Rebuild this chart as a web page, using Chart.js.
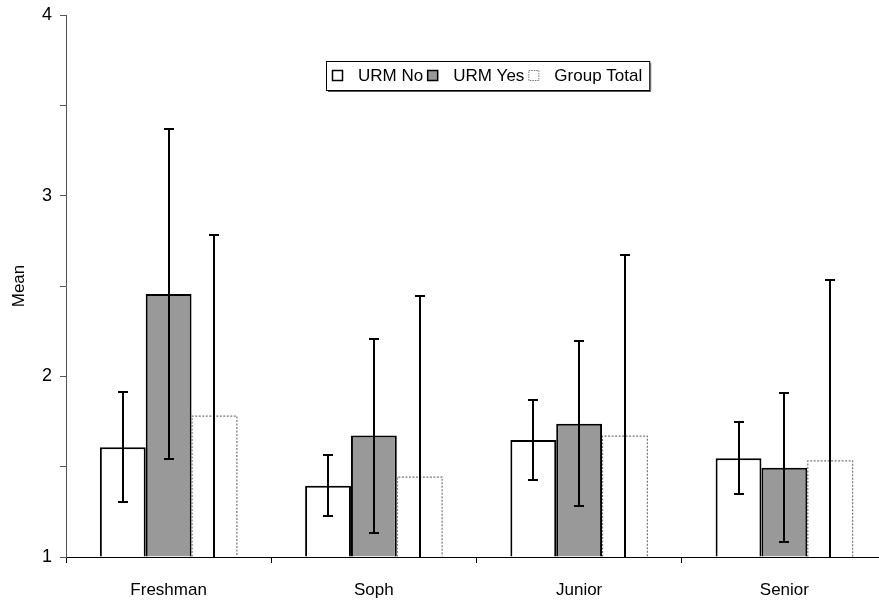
<!DOCTYPE html>
<html>
<head>
<meta charset="utf-8">
<script src="https://cdn.jsdelivr.net/npm/chart.js@4"></script>
<style>
html,body{margin:0;padding:0;background:#fff;overflow:hidden;}
#wrap{width:879px;height:602px;overflow:hidden;position:relative;}
#c{display:block;}
</style>
</head>
<body>
<div id="wrap"><canvas id="c" width="900" height="602" style="width:900px;height:602px"></canvas></div>
<script>
const categories = ['Freshman', 'Soph', 'Junior', 'Senior'];
const seriesNames = ['URM No', 'URM Yes', 'Group Total'];
const urmNo = [1.608, 1.395, 1.648, 1.546];
const urmNoErr = [0.305, 0.167, 0.221, 0.199];
const urmYes = [2.456, 1.672, 1.738, 1.494];
const urmYesErr = [0.911, 0.537, 0.455, 0.411];
const groupTotal = [1.782, 1.445, 1.672, 1.535];
const groupTotalErr = [1.0, 1.0, 1.0, 1.0];
const yTickLabels = [1, 2, 3, 4];

const FONT = "'Liberation Sans', Arial, sans-serif";
const errs = [urmNoErr, urmYesErr, groupTotalErr];

const drawPlugin = {
  id: 'extras',
  afterDatasetsDraw(chart) {
    const ctx = chart.ctx;
    const y = chart.scales.y;
    const area = chart.chartArea;
    // dotted outline of Group Total bars
    const m2 = chart.getDatasetMeta(2);
    ctx.save();
    m2.data.forEach(el => {
      const p = el.getProps(['x', 'y', 'base', 'width'], true);
      ctx.strokeStyle = '#777';
      ctx.lineWidth = 1.2;
      ctx.setLineDash([2, 1.5]);
      ctx.beginPath();
      const l = p.x - p.width / 2 + 0.5, r = p.x + p.width / 2 - 0.5;
      ctx.moveTo(l, p.base);
      ctx.lineTo(l, p.y + 0.5);
      ctx.lineTo(r, p.y + 0.5);
      ctx.lineTo(r, p.base);
      ctx.stroke();
    });
    ctx.restore();
    // error bars
    ctx.save();
    ctx.strokeStyle = '#000';
    ctx.lineWidth = 2;
    chart.data.datasets.forEach((ds, di) => {
      const meta = chart.getDatasetMeta(di);
      meta.data.forEach((el, i) => {
        const v = ds.data[i], e = errs[di][i];
        const x = Math.round(el.x);
        const hi = Math.round(y.getPixelForValue(v + e));
        const loRaw = Math.round(y.getPixelForValue(v - e));
        const lo = Math.min(loRaw, area.bottom);
        ctx.beginPath();
        ctx.moveTo(x, hi);
        ctx.lineTo(x, lo);
        ctx.moveTo(x - 5, hi);
        ctx.lineTo(x + 5, hi);
        if (loRaw <= area.bottom) {
          ctx.moveTo(x - 5, lo);
          ctx.lineTo(x + 5, lo);
        }
        ctx.stroke();
      });
    });
    ctx.restore();
  },
  afterDraw(chart) {
    const ctx = chart.ctx;
    ctx.save();
    ctx.font = '17px ' + FONT;
    const cy = 75;
    const ms = 10;
    let x = 332;
    const items = [];
    seriesNames.forEach((name, i) => {
      const mx = x;
      const tx = mx + ms + 16;
      const tw = ctx.measureText(name).width;
      items.push({ mx, tx, name });
      x = tx + tw + 4;
    });
    const boxL = 326, boxR = x + 3, boxT = 61, boxB = 90;
    ctx.fillStyle = '#fff';
    ctx.fillRect(boxL, boxT, boxR - boxL, boxB - boxT);
    ctx.strokeStyle = '#000';
    ctx.lineWidth = 1;
    ctx.strokeRect(boxL + 0.5, boxT + 0.5, boxR - boxL, boxB - boxT);
    ctx.strokeStyle = '#555';
    ctx.beginPath();
    ctx.moveTo(boxR + 1.5, boxT + 2);
    ctx.lineTo(boxR + 1.5, boxB + 1.5);
    ctx.lineTo(boxL + 2, boxB + 1.5);
    ctx.stroke();
    items.forEach((it, i) => {
      const top = cy - ms / 2;
      if (i === 1) { ctx.fillStyle = '#999'; ctx.fillRect(it.mx, top, ms, ms); }
      ctx.lineWidth = i === 2 ? 1 : 1.5;
      ctx.strokeStyle = i === 2 ? '#777' : '#000';
      ctx.setLineDash(i === 2 ? [1.5, 1] : []);
      ctx.strokeRect(it.mx + 0.5, top + 0.5, ms, ms);
      ctx.setLineDash([]);
      ctx.fillStyle = '#000';
      ctx.textBaseline = 'middle';
      ctx.textAlign = 'left';
      ctx.fillText(it.name, it.tx, cy + 1);
    });
    ctx.restore();
  }
};

new Chart(document.getElementById('c'), {
  type: 'bar',
  data: {
    labels: categories,
    datasets: [
      { label: seriesNames[0], data: urmNo, base: 1, backgroundColor: '#fff', borderColor: '#000', borderWidth: 2, borderSkipped: 'start' },
      { label: seriesNames[1], data: urmYes, base: 1, backgroundColor: '#999', borderColor: '#000', borderWidth: 2, borderSkipped: 'start' },
      { label: seriesNames[2], data: groupTotal, base: 1, backgroundColor: '#fff', borderWidth: 0 }
    ]
  },
  options: {
    responsive: false,
    animation: false,
    events: [],
    datasets: { bar: { categoryPercentage: 0.67, barPercentage: 1.0 } },
    layout: { padding: { top: 15, right: 13, bottom: 0, left: 0 } },
    plugins: { legend: { display: false }, tooltip: { enabled: false } },
    scales: {
      x: {
        offset: true,
        grid: { display: true, drawOnChartArea: false, offset: true, tickLength: 6, color: '#000' },
        border: { display: true, color: '#000', width: 1 },
        ticks: { color: '#000', font: { family: FONT, size: 17 }, padding: 17, maxRotation: 0 },
        afterFit(s) { s.height = 45; s.paddingLeft = 0; s.paddingRight = 0; }
      },
      y: {
        min: 1, max: 4,
        grid: { display: true, drawOnChartArea: false, tickLength: 6, color: '#555' },
        border: { display: true, color: '#555', width: 1 },
        ticks: {
          stepSize: 0.5, color: '#000', font: { family: FONT, size: 18 }, padding: 8,
          callback: v => yTickLabels.includes(v) ? String(v) : ''
        },
        title: { display: true, text: 'Mean', color: '#000', font: { family: FONT, size: 17 }, padding: { top: 9, bottom: 0 } },
        afterFit(s) { s.width = 66; s.paddingTop = 0; s.paddingBottom = 0; }
      }
    }
  },
  plugins: [drawPlugin]
});
</script>
</body>
</html>
